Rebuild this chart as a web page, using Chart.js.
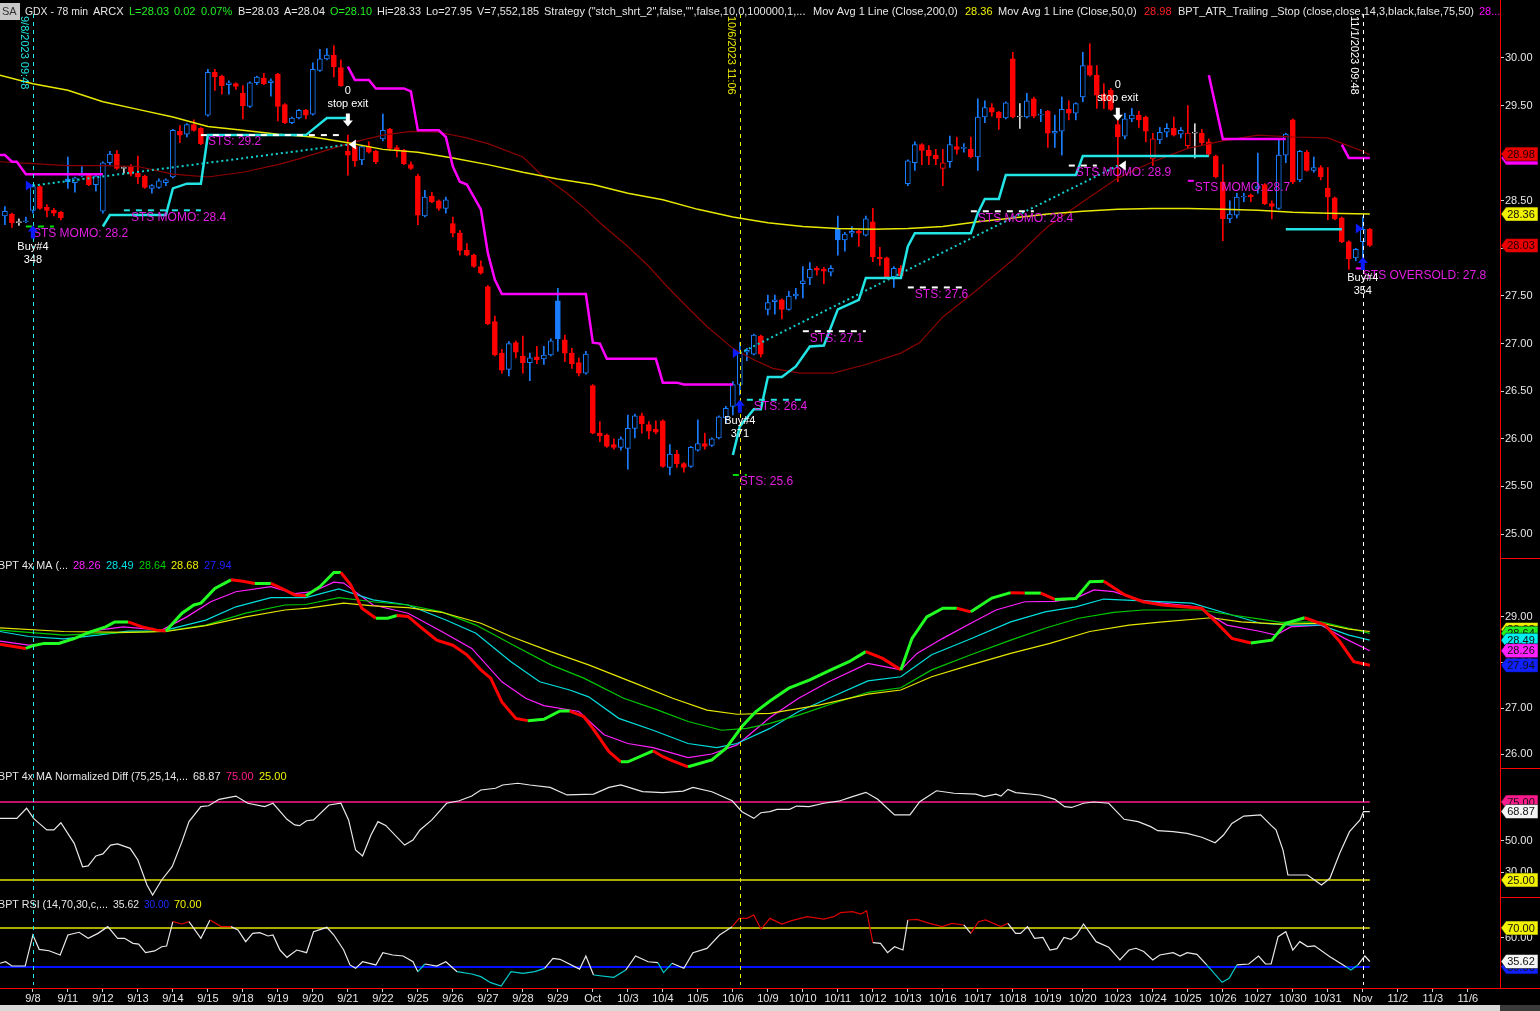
<!DOCTYPE html>
<html>
<head>
<meta charset="utf-8">
<title>GDX - 78 min</title>
<script src="https://cdn.jsdelivr.net/npm/chart.js@4.4.0/dist/chart.umd.min.js"></script>
<style>
  html, body { margin: 0; padding: 0; background: #000; overflow: hidden; }
</style>
</head>
<body>
<canvas id="chart" width="1540" height="1011"></canvas>
<script>
// 78 min bars, bar 0 = 9/8 09:48, five bars a session
const firstBar = -4;
const dayLabels = ['9/8','9/11','9/12','9/13','9/14','9/15','9/18','9/19','9/20','9/21','9/22','9/25','9/26','9/27','9/28','9/29',
  'Oct','10/3','10/4','10/5','10/6','10/9','10/10','10/11','10/12','10/13','10/16','10/17','10/18','10/19','10/20',
  '10/23','10/24','10/25','10/26','10/27','10/30','10/31','Nov','11/2','11/3','11/6'];

const opens = [
  28.34,28.36,28.27,28.28,28.40,28.65,28.43,28.40,28.38,28.73,
  28.69,28.76,28.77,28.67,28.39,28.90,28.99,28.84,28.86,28.79,
  28.76,28.63,28.64,28.69,28.75,29.23,29.20,29.30,29.26,29.40,
  29.85,29.81,29.72,29.73,29.63,29.49,29.74,29.79,29.74,29.83,
  29.51,29.32,29.37,29.45,29.41,29.87,29.99,30.03,29.90,29.02,
  29.07,28.93,29.07,29.02,29.15,29.25,29.06,29.03,28.88,28.76,
  28.34,28.55,28.50,28.42,28.26,28.16,27.98,27.93,27.81,27.60,
  27.23,26.90,26.73,27.01,26.87,26.80,26.86,26.84,26.88,27.45,
  27.04,26.90,26.80,26.69,26.56,26.06,26.04,25.94,25.91,25.90,
  26.11,26.24,26.15,26.10,26.19,25.70,25.84,25.74,25.71,25.88,
  25.95,25.93,26.01,26.22,26.34,26.57,26.91,26.89,27.08,27.36,
  27.44,27.46,27.36,27.50,27.63,27.69,27.79,27.78,27.75,28.20,
  28.09,28.16,28.18,28.14,28.28,27.91,27.90,27.70,27.79,28.68,
  28.90,29.09,29.03,28.98,28.84,28.91,29.07,29.05,29.04,28.96,
  29.38,29.48,29.43,29.37,29.99,29.38,29.38,29.57,29.40,29.44,
  29.21,29.23,29.46,29.42,29.59,29.92,29.82,29.62,29.66,29.30,
  29.18,29.36,29.40,29.38,28.94,29.14,29.22,29.26,29.20,29.08,
  29.21,29.21,29.12,28.97,28.70,28.31,28.35,28.54,28.56,28.63,
  28.67,28.47,28.42,28.98,29.35,28.72,29.01,28.82,28.85,28.63,
  28.53,28.32,28.07,27.90,28.07,28.20];
const highs = [
  28.44,28.37,28.31,28.33,28.67,28.66,28.46,28.42,28.39,28.96,
  28.75,28.86,28.78,28.77,28.91,29.02,29.03,28.86,28.88,28.97,
  28.77,28.67,28.73,28.73,29.25,29.29,29.31,29.35,29.27,29.88,
  29.88,29.82,29.76,29.74,29.71,29.75,29.81,29.84,29.78,29.84,
  29.52,29.38,29.46,29.46,29.95,30.09,30.10,30.13,29.98,29.19,
  29.08,29.08,29.12,29.03,29.41,29.26,29.08,29.04,28.91,28.78,
  28.61,28.59,28.51,28.54,28.33,28.19,28.05,27.94,27.87,27.61,
  27.29,26.94,27.02,27.03,27.08,26.90,26.97,26.97,27.05,27.58,
  27.09,26.95,26.85,26.92,26.57,26.18,26.05,26.00,26.02,26.25,
  26.26,26.27,26.18,26.19,26.20,25.94,25.88,25.75,25.92,26.20,
  26.06,26.01,26.24,26.34,26.60,27.01,26.95,27.10,27.09,27.51,
  27.51,27.47,27.55,27.58,27.81,27.85,27.81,27.80,27.82,28.34,
  28.17,28.23,28.20,28.34,28.42,28.01,27.91,27.81,27.82,28.93,
  29.12,29.10,29.08,29.04,29.04,29.18,29.17,29.10,29.17,29.57,
  29.55,29.52,29.44,29.54,30.06,29.52,29.63,29.59,29.46,29.45,
  29.40,29.59,29.55,29.53,30.06,30.15,29.92,29.73,29.68,29.35,
  29.42,29.47,29.44,29.39,29.21,29.27,29.31,29.38,29.27,29.50,
  29.31,29.25,29.15,28.98,28.88,28.50,28.58,28.58,28.57,29.00,
  28.68,28.50,29.14,29.21,29.36,29.03,29.03,28.96,28.87,28.85,
  28.54,28.33,28.08,28.00,28.33,28.21];
const lows = [
  28.25,28.22,28.24,28.27,28.37,28.41,28.33,28.34,28.30,28.63,
  28.59,28.75,28.66,28.60,28.37,28.88,28.83,28.79,28.76,28.68,
  28.63,28.58,28.63,28.66,28.74,29.11,29.17,29.23,29.09,29.39,
  29.66,29.62,29.62,29.67,29.36,29.48,29.72,29.72,29.60,29.34,
  29.31,29.31,29.36,29.36,29.40,29.86,29.98,29.80,29.70,28.77,
  28.86,28.88,29.00,28.89,29.13,29.03,28.96,28.88,28.83,28.25,
  28.33,28.48,28.40,28.37,28.12,27.93,27.92,27.80,27.73,27.20,
  26.87,26.69,26.66,26.85,26.69,26.61,26.79,26.78,26.87,26.92,
  26.81,26.74,26.66,26.68,26.05,25.97,25.91,25.89,25.88,25.68,
  26.01,26.06,26.00,26.05,25.70,25.62,25.70,25.65,25.70,25.87,
  25.89,25.92,26.00,26.17,26.25,26.46,26.82,26.88,26.86,27.30,
  27.31,27.26,27.35,27.47,27.48,27.62,27.72,27.63,27.71,27.93,
  27.97,28.12,28.02,28.13,27.86,27.82,27.69,27.59,27.70,28.66,
  28.82,28.88,28.88,28.88,28.66,28.85,28.99,29.01,28.95,28.82,
  29.32,29.39,29.25,29.36,29.37,29.26,29.37,29.37,29.33,29.06,
  29.06,28.98,29.35,29.35,29.54,29.81,29.47,29.47,29.45,28.70,
  29.15,29.33,29.27,29.12,28.87,29.10,29.17,29.18,29.16,29.05,
  28.95,29.08,28.97,28.74,28.08,28.27,28.32,28.49,28.49,28.58,
  28.46,28.31,28.41,28.90,28.68,28.70,28.81,28.80,28.72,28.30,
  28.30,28.06,27.78,27.87,27.88,28.02];
const closes = [
  28.39,28.27,28.27,28.29,28.65,28.42,28.40,28.37,28.32,28.70,
  28.74,28.78,28.67,28.76,28.90,28.99,28.84,28.84,28.78,28.75,
  28.64,28.66,28.71,28.72,29.24,29.19,29.30,29.24,29.10,29.85,
  29.80,29.71,29.74,29.70,29.50,29.74,29.80,29.73,29.76,29.49,
  29.32,29.37,29.45,29.40,29.88,29.99,30.03,29.91,29.71,28.98,
  28.92,29.07,29.01,28.91,29.24,29.05,29.03,28.89,28.84,28.35,
  28.54,28.49,28.42,28.51,28.16,27.98,27.93,27.81,27.74,27.21,
  26.88,26.72,27.00,26.91,26.80,26.85,26.83,26.88,27.03,27.05,
  26.90,26.79,26.69,26.89,26.06,26.03,25.92,25.91,26.00,26.11,
  26.24,26.16,26.08,26.07,25.71,25.84,25.74,25.70,25.91,25.95,
  25.92,26.00,26.23,26.32,26.57,26.90,26.93,27.09,26.89,27.43,
  27.46,27.36,27.50,27.52,27.66,27.78,27.77,27.76,27.79,28.09,
  28.15,28.18,28.16,28.31,27.91,27.89,27.70,27.79,27.71,28.92,
  29.09,29.03,28.97,28.94,28.90,29.09,29.04,29.06,28.96,29.38,
  29.48,29.43,29.37,29.53,29.38,29.38,29.55,29.39,29.41,29.21,
  29.23,29.46,29.42,29.52,29.92,29.82,29.61,29.55,29.46,29.17,
  29.36,29.40,29.35,29.23,29.15,29.22,29.26,29.19,29.24,29.21,
  29.21,29.11,28.99,28.75,28.31,28.36,28.54,28.55,28.54,28.65,
  28.47,28.44,28.98,29.20,28.70,29.02,28.82,28.85,28.75,28.54,
  28.31,28.07,27.89,27.99,28.20,28.03];

// price panel studies, [bar, value]
const ma200 = [[-4.7,29.82],[0,29.73],[5,29.66],[10,29.54],[15,29.46],[20,29.38],[25,29.28],[30,29.24],[35,29.20],[40,29.17],
  [45,29.11],[50,29.04],[55,29.01],[60,28.95],[65,28.88],[70,28.80],[75,28.73],[80,28.67],[85,28.58],[90,28.51],[95,28.41],
  [100,28.33],[105,28.27],[110,28.23],[115,28.21],[120,28.20],[125,28.21],[130,28.23],[135,28.28],[140,28.32],[145,28.36],
  [150,28.39],[155,28.41],[160,28.42],[165,28.42],[170,28.41],[175,28.40],[180,28.38],[185,28.37],[191,28.36]];
const ma50 = [[-4.7,28.91],[0,28.89],[5,28.87],[10,28.87],[15,28.86],[20,28.78],[25,28.75],[30,28.80],[35,28.88],[38,28.94],
  [45,29.10],[50,29.19],[54,29.23],[58,29.22],[62,29.16],[65,29.10],[70,28.96],[72.4,28.79],[76.3,28.58],[79,28.41],
  [81,28.27],[85,28.02],[88,27.81],[90.6,27.60],[93.4,27.39],[96.3,27.18],[100,26.95],[103,26.83],[105.7,26.74],
  [109.6,26.69],[114.3,26.69],[119,26.78],[124,26.90],[126.7,27.01],[130,27.28],[135,27.57],[140,27.88],[145,28.23],
  [150,28.49],[155,28.74],[160,28.91],[165,29.05],[170,29.13],[175,29.19],[180,29.17],[185,29.16],[187.5,29.09],
  [190,29.02],[191,28.98]];

// ATR trailing stop: short side (above price) and long side (below price)
const stopShort = [
  [[-4.7,28.98],[-4,28.98],[-3,28.91],[-2.3,28.91],[-1,28.78],[10,28.78]],
  [[45,29.91],[46,29.77],[48,29.77],[49,29.68],[53,29.68],[54,29.65],[55,29.24],[58,29.24],[59,29.17],[60,28.86],
   [61,28.70],[62,28.67],[64,28.41],[65,27.95],[66,27.67],[67,27.52],[79,27.52],[80,27.01],[81,27.00],[82,26.84],
   [89,26.84],[90,26.59],[92,26.59],[93,26.57],[100,26.57]],
  [[168,29.82],[170,29.15],[179,29.15]],
  [[187,29.09],[188,28.95],[191,28.95]]];
const stopLong = [
  [[10,28.23],[11,28.35],[19,28.35],[20,28.63],[22,28.68],[24,28.68],[25,29.19],[39,29.19],[42,29.37],[45,29.37]],
  [[100,25.83],[101,26.13],[103,26.31],[104,26.31],[105,26.65],[107,26.65],[109,26.76],[111,26.97],[113,26.98],
   [115,27.36],[118,27.46],[119,27.69],[124,27.69],[125,28.02],[126,28.16],[134,28.16],[135,28.37],[136,28.52],
   [138,28.52],[139,28.77],[149,28.77],[150,28.97],[168,28.97]],
  [[179,28.20],[187,28.20]]];

// trade trend lines (entry -> exit)
const trendLines = [[[0,28.66],[45,29.09]], [[101,26.90],[155,28.87]]];

// STS levels
const stsFrom  = [-1, 13, 24, 102, 100, 110, 125, 134, 148, 165, 189];
const stsTo    = [3, 24, 44, 110, 102, 119, 133, 143, 152, 166, 190];
const stsPrice = [28.23, 28.40, 29.19, 26.41, 25.62, 27.13, 27.59, 28.39, 28.87, 28.71, 27.79];
const stsKind  = ['g', 'c', 'w', 'c', 'g', 'w', 'w', 'w', 'w', 'm', 'm'];
const stsText  = ['STS MOMO: 28.2', 'STS MOMO: 28.4', 'STS: 29.2', 'STS: 26.4', 'STS: 25.6', 'STS: 27.1',
  'STS: 27.6', 'STS MOMO: 28.4', 'STS MOMO: 28.9', 'STS MOMO: 28.7', 'STS OVERSOLD: 27.8'];

// trades
const buyBars = [0, 101, 190];
const buyEntry = [28.66, 26.90, 28.21];
const buyArrow = [28.24, 26.41, 27.91];
const buyIds = ['348', '371', '354'];
const exitBars = [45, 155];
const exitArrow = [29.28, 29.34];
const exitPrice = [29.09, 28.87];

// marked bars
const eventBars = [0, 101, 190];
const eventText = ['9/8/2023 09:48', '10/6/2023 11:06', '11/1/2023 09:48'];

// BPT 4x MA
const maFast = [[-4.7,28.40],[-1,28.31],[0,28.37],[1.6,28.42],[3.7,28.42],[6,28.53],[8,28.66],[10.4,28.78],[11.7,28.89],
  [13.6,28.89],[15.6,28.78],[17.7,28.71],[19,28.69],[21.3,29.08],[23,29.26],[24,29.30],[26,29.62],[28.3,29.81],[30,29.78],
  [31.7,29.73],[34,29.73],[35.6,29.62],[37.4,29.48],[39,29.46],[41,29.66],[43,29.97],[44,29.97],[45.4,29.70],[47,29.19],
  [49,28.97],[50.7,28.97],[52,29.03],[53.6,29.01],[55.6,28.75],[57.7,28.49],[60,28.38],[62,28.17],[64,27.84],[65.4,27.66],
  [67,27.14],[69,26.78],[70.7,26.73],[73,26.76],[75.3,26.94],[76.7,26.94],[78.7,26.82],[80,26.56],[82.3,26.05],[84,25.83],
  [85,25.83],[88.6,26.07],[90,25.94],[91.4,25.85],[93.6,25.72],[97,25.87],[99,26.12],[101.3,26.60],[103.3,26.93],
  [105.3,27.16],[108,27.44],[111,27.62],[113.7,27.82],[116.6,28.02],[119,28.24],[121.4,28.09],[124,27.84],[125.6,28.53],
  [127.7,29.00],[130,29.19],[132,29.19],[134,29.11],[137,29.41],[139.7,29.53],[141.7,29.52],[144,29.52],[146,29.38],
  [149,29.40],[151,29.77],[153,29.78],[156,29.48],[158.6,29.33],[161.4,29.26],[164.3,29.22],[167,29.19],[169,28.89],
  [171.3,28.53],[174,28.43],[177,28.49],[179,28.86],[181.7,28.98],[184.6,28.82],[186.7,28.46],[188.7,28.02],[191,27.94]];
const maMagenta = [[-4.7,28.47],[-0.6,28.38],[3.7,28.43],[9.3,28.71],[12.9,28.78],[18.4,28.71],[22,29.00],[25.4,29.33],
  [29,29.55],[34,29.66],[37.4,29.51],[40,29.55],[43,29.76],[44.4,29.74],[48.6,29.26],[53.6,29.08],[58.4,28.68],[62.7,28.31],
  [67,27.58],[70.4,27.22],[73,27.06],[78,26.93],[81.6,26.42],[85,26.23],[88.6,26.14],[93.6,25.92],[97,26.00],[100.6,26.20],
  [105.3,26.80],[109.4,27.22],[113.7,27.58],[119.3,27.98],[124,27.84],[126.3,28.20],[130,28.53],[134,28.86],[137.6,29.15],
  [141.7,29.33],[146,29.34],[149,29.41],[151.6,29.59],[154.4,29.55],[158,29.37],[161.4,29.30],[166.3,29.22],[170.6,28.82],
  [175.4,28.68],[177.6,28.60],[179.7,28.78],[184,28.82],[187.4,28.53],[191,28.26]];
const maCyan = [[-4.7,28.68],[-0.6,28.57],[4.4,28.52],[9.3,28.60],[13.6,28.69],[18.4,28.69],[24.7,28.93],[29,29.22],
  [34,29.42],[39,29.42],[43.7,29.61],[48.6,29.37],[53.6,29.26],[59,28.93],[63.3,28.64],[68.3,28.02],[72.4,27.58],
  [76.7,27.40],[79.4,27.25],[83.7,26.78],[88.6,26.52],[93.6,26.23],[97.7,26.14],[100.6,26.23],[105.3,26.56],[109.4,26.93],
  [113.7,27.22],[119.3,27.60],[124,27.69],[128.4,28.17],[134,28.52],[139.7,28.89],[144.6,29.11],[149,29.22],[153,29.39],
  [158.6,29.35],[165.6,29.30],[171.3,29.04],[175.4,28.86],[179.7,28.82],[184,28.82],[188,28.60],[191,28.49]];
const maGreen = [[-4.7,28.71],[4.4,28.60],[13.6,28.66],[19,28.69],[24.7,28.82],[30.4,29.08],[36,29.26],[39,29.27],
  [43.7,29.42],[48.6,29.33],[53.6,29.26],[58.4,29.11],[63.3,28.82],[69,28.35],[74,27.95],[78.7,27.66],[84.4,27.22],
  [89.3,26.96],[93.6,26.71],[98.4,26.52],[102,26.56],[105.3,26.67],[109.4,26.85],[114.4,27.11],[119.3,27.35],[124,27.45],
  [128.4,27.84],[134,28.17],[139.7,28.49],[144.6,28.75],[149.4,28.97],[154.4,29.10],[158.6,29.15],[167,29.15],
  [171.3,29.04],[175.4,28.95],[178.3,28.88],[184,28.89],[188,28.75],[191,28.64]];
const maYellow = [[-4.7,28.76],[4.4,28.68],[13.6,28.66],[19,28.68],[24.7,28.81],[30.4,29.00],[36,29.15],[39.4,29.19],
  [44.4,29.30],[48.6,29.24],[53.6,29.20],[58.4,29.10],[64,28.86],[68.3,28.57],[74,28.24],[79.4,27.95],[86,27.55],
  [91.4,27.22],[96.3,26.96],[100.6,26.87],[105.3,26.89],[112.3,27.07],[119.3,27.31],[124,27.40],[128.4,27.69],[134,27.95],
  [139.7,28.20],[145.3,28.42],[151,28.68],[156.6,28.82],[161.4,28.89],[168.4,28.98],[172.6,28.89],[178.3,28.84],
  [184,28.86],[188,28.73],[191,28.68]];

// BPT 4x MA Normalized Diff
const normDiff = [[-4.7,64.5],[-2.3,64.5],[-0.9,71.0],[0.1,64.5],[0.9,61.3],[2,57.1],[3,57.1],[4,61.7],[5.9,48.5],
  [7.1,33.5],[7.9,34.0],[9,40.4],[10,41.7],[11.1,47.4],[12.1,48.1],[13.9,45.3],[15,37.8],[16.3,21.8],[17.1,15.4],
  [18.4,25.0],[19.9,33.5],[21.3,49.6],[22.3,62.4],[24,72.0],[25.1,72.6],[26.6,76.7],[29,78.8],[30.7,74.2],[33.1,72.0],
  [34.3,74.2],[36.3,63.9],[37.4,60.3],[38.1,59.8],[39.1,63.0],[40.1,63.5],[42.3,73.1],[44,74.2],[45.1,63.5],[46.1,44.2],
  [47.1,40.4],[48.3,53.8],[49.3,62.4],[50.4,60.0],[53.1,47.4],[54.3,50.6],[55.3,57.1],[57,63.5],[59.1,74.2],[60.9,75.8],
  [62.7,78.8],[64,82.7],[66.1,83.8],[67.1,85.9],[69.3,87.0],[71,85.9],[73.9,84.4],[76.3,79.5],[80.1,80.1],[82.3,84.4],
  [84,85.9],[87.1,81.6],[90,81.0],[92.9,82.0],[94.3,84.4],[97,81.6],[99.9,75.8],[101.3,68.8],[103,64.5],[104,68.1],
  [105.3,68.8],[106.3,70.3],[108.1,70.3],[109.1,72.4],[110.9,72.0],[113,74.2],[115.1,75.5],[117.1,78.4],[119,81.2],
  [120.7,76.7],[123.1,66.7],[125.3,66.7],[126.7,75.2],[129.1,82.2],[131.6,80.6],[134.7,80.0],[135.9,78.4],[137.6,80.0],
  [138.3,78.8],[139.3,83.1],[140.4,81.0],[143.9,79.5],[146,76.7],[147.4,72.0],[148.4,71.5],[150.1,74.2],[151.6,75.0],
  [153.7,74.2],[155.9,63.9],[157.9,62.4],[159.7,59.2],[160.7,56.6],[162.9,56.0],[164.9,54.9],[167,52.4],[168.9,48.9],
  [170.1,53.8],[171.3,61.3],[173,66.0],[175.4,66.7],[176.9,60.0],[177.6,57.1],[178.6,44.2],[179.3,28.2],[182.1,28.2],
  [184.1,21.8],[185.3,26.1],[186.7,42.1],[188.1,56.0],[189.6,63.5],[190.1,68.9],[191,68.87]];

// BPT RSI
const rsi = [[-4.7,33.8],[-3.9,35.4],[-3,31.0],[-1.1,31.0],[0,62.8],[0.9,48.1],[2.3,46.7],[3.9,42.3],[5,62.8],[6.6,65.6],
  [7.9,59.4],[9.3,64.5],[10.7,71.4],[12.1,59.4],[13.1,59.4],[14.3,54.3],[15.1,53.5],[16.1,44.7],[17.4,46.5],[18.4,50.8],
  [19.1,51.5],[20,76.5],[21.3,74.1],[22.3,76.5],[24,59.4],[25.3,78.2],[26.9,71.4],[28.3,71.4],[29.3,68.0],[30.4,56.0],
  [31.4,64.5],[32.4,65.2],[33.6,61.8],[34.3,62.8],[35.3,47.4],[36.3,39.9],[37.7,47.4],[39.1,44.7],[40.1,66.2],[42,70.7],
  [43,62.8],[44.4,47.4],[45.3,32.1],[46.1,28.6],[47.1,35.4],[49,32.1],[50,44.7],[51.4,42.3],[52.9,41.3],[54.3,35.4],
  [55,25.2],[56,33.1],[57.7,31.0],[59,35.4],[60.6,25.2],[62.7,22.8],[64,20.1],[65.4,13.9],[66.9,10.5],[68.3,25.2],
  [70,23.5],[71.7,25.2],[73.1,28.6],[74.3,38.9],[75.3,37.9],[78.1,27.8],[79,41.3],[80.1,21.8],[83,19.4],[84.7,26.9],
  [86.1,41.3],[87.9,35.4],[89.3,34.4],[90.1,24.3],[91.3,33.8],[93,28.6],[94.3,44.7],[96.3,49.1],[98.1,62.8],[99.9,71.4],
  [100.9,79.9],[102,79.9],[103,83.3],[104,68.7],[105.3,79.9],[107,74.1],[108.4,77.5],[110.6,81.6],[113,79.2],[114.4,81.6],
  [115.4,85.7],[117.1,86.7],[118.3,84.3],[119.1,87.7],[120,54.9],[121.1,54.2],[122.1,44.7],[123.1,50.8],[124.3,47.4],
  [125,78.2],[126.3,78.9],[128.1,74.8],[129.9,71.4],[131.3,74.8],[133,73.1],[134,64.5],[135.1,76.5],[136.1,78.2],
  [138.3,71.4],[139.3,74.8],[140.4,64.5],[141.1,64.5],[142.1,71.4],[143.1,59.4],[144.3,60.4],[145.3,47.4],[146.3,48.8],
  [147.3,60.4],[148.3,58.3],[149.1,62.8],[150.1,74.1],[151.9,56.0],[153.7,50.2],[155.3,37.2],[156.6,47.4],[157.6,49.2],
  [158.7,45.9],[160,37.2],[161,42.3],[162.9,44.7],[163.9,41.3],[164.9,44.7],[166.3,43.0],[167.7,32.1],[169.9,14.3],
  [170.9,18.4],[172,32.1],[173.7,33.1],[175.1,41.3],[176.1,33.1],[176.9,33.1],[177.9,61.1],[179,66.2],[180,47.4],
  [181,56.0],[182.1,51.0],[183.1,51.7],[185.3,40.6],[187.6,30.3],[188.3,26.9],[189.3,32.1],[190.3,41.3],[191,35.62]];

const ndBands = [75, 25];
const rsiBands = [70, 30];

// ---------------------------------------------------------------
const UP = '#1a7dff', DOWN = '#ff0000', FLAT = '#d8d8d8';
const RED = '#ff0000', MAG = '#ff00ff', AQUA = '#22e4e4', YEL = '#e8e800', TXT = '#e6e6e6';
const STS_COL = {g: '#00dd00', c: '#22e4e4', w: '#ffffff', m: '#ff00ff'};
const STS_TXT = '#e21ee2';
const FONT = '11px "Liberation Sans", Arial, sans-serif';
const STS_FONT = '12px "Liberation Sans", Arial, sans-serif';
const lastBar = firstBar + closes.length - 1;

Chart.defaults.font.family = '"Liberation Sans", Arial, sans-serif';
Chart.defaults.font.size = 11;

const bars = closes.map((c, k) => firstBar + k);
const candleCol = closes.map((c, k) => {
  const prev = k ? closes[k - 1] : opens[k];
  return c > prev ? UP : (c < prev ? DOWN : FLAT);
});
const candleFill = closes.map((c, k) => c < opens[k] ? candleCol[k] : '#000');

const pts = arr => arr.map(p => ({x: p[0], y: p[1]}));
const last = arr => arr[arr.length - 1][1];
function line(data, axis, color, width, order, extra) {
  return Object.assign({type: 'line', data: pts(data), yAxisID: axis, borderColor: color, borderWidth: width,
    pointRadius: 0, fill: false, tension: 0, order: order}, extra || {});
}
const span = v => [[-4.7, v], [lastBar, v]];

const datasets = [
  {type: 'bar', data: bars.map((i, k) => ({x: i, y: [lows[k], highs[k]]})), yAxisID: 'yP', grouped: false,
    barThickness: 1, backgroundColor: candleCol, borderWidth: 0, order: 20},
  {type: 'bar', data: bars.map((i, k) => ({x: i, y: [opens[k], closes[k]]})), yAxisID: 'yP', grouped: false,
    barThickness: 5, minBarLength: 1, backgroundColor: candleFill, borderColor: candleCol, borderWidth: 1,
    borderSkipped: false, order: 19},
  line(ma200, 'yP', YEL, 1.5, 6),
  line(ma50, 'yP', '#8b0000', 1.2, 6),
];
stopShort.forEach(s => datasets.push(line(s, 'yP', MAG, 2.5, 5)));
stopLong.forEach(s => datasets.push(line(s, 'yP', AQUA, 2.5, 5)));
trendLines.forEach(s => datasets.push(line(s, 'yP', '#10d0d0', 2, 4, {borderDash: [2, 3]})));
stsFrom.forEach((f, k) => datasets.push(line([[f, stsPrice[k]], [stsTo[k], stsPrice[k]]], 'yP',
  STS_COL[stsKind[k]], 2, 3, {borderDash: [6, 6]})));

datasets.push(line(maYellow, 'yM', '#e6e600', 1.2, 5));
datasets.push(line(maGreen, 'yM', '#00c800', 1.2, 5));
datasets.push(line(maCyan, 'yM', '#00dede', 1.2, 5));
datasets.push(line(maMagenta, 'yM', '#ff20ff', 1.2, 5));
datasets.push(line(maFast, 'yM', '#00ff00', 3, 4,
  {segment: {borderColor: s => s.p1.parsed.y < s.p0.parsed.y ? '#ff0000' : '#22ff22'}}));

datasets.push(line(span(ndBands[0]), 'yN', '#ff1a8c', 1.5, 6));
datasets.push(line(span(ndBands[1]), 'yN', '#e6e600', 1.5, 6));
datasets.push(line(normDiff, 'yN', '#e8e8e8', 1.2, 5));

datasets.push(line(span(rsiBands[0]), 'yR', '#e6e600', 1.5, 6));
datasets.push(line(span(rsiBands[1]), 'yR', '#0010ff', 2, 6));
datasets.push(line(rsi, 'yR', '#e8e8e8', 1.2, 5, {segment: {borderColor: s => {
  const m = (s.p0.parsed.y + s.p1.parsed.y) / 2;
  return m > rsiBands[0] ? '#dd0000' : (m < rsiBands[1] ? '#00cccc' : '#e8e8e8');
}}}));

function paneAxis(weight, min, max, ticks) {
  return {
    type: 'linear', position: 'right', stack: 'panes', stackWeight: weight, min: min, max: max, offset: false,
    border: {display: true, color: RED, width: 1},
    grid: {display: true, drawOnChartArea: false, drawTicks: true, tickLength: 4, color: '#d0d0d0'},
    ticks: {color: TXT, padding: 1, font: {size: 11}, callback: v => Number(v).toFixed(2)},
    afterBuildTicks: s => { s.ticks = ticks.map(v => ({value: v})); },
    afterFit: s => { s.width = 40; s.paddingTop = 0; s.paddingBottom = 0; }
  };
}

function tag(c, y, text, fill, textCol) {
  const x0 = 1500, w = 38, h = 14;
  c.beginPath();
  c.moveTo(x0 + 1, y); c.lineTo(x0 + 6, y - h / 2); c.lineTo(x0 + w, y - h / 2);
  c.lineTo(x0 + w, y + h / 2); c.lineTo(x0 + 6, y + h / 2); c.closePath();
  c.fillStyle = fill; c.fill();
  c.strokeStyle = 'rgba(0,0,0,0.5)'; c.lineWidth = 1; c.stroke();
  c.fillStyle = textCol || '#111'; c.textAlign = 'center'; c.textBaseline = 'middle';
  c.font = FONT;
  c.fillText(text, x0 + 21, y + 0.5);
}
// text runs: [text, colour, left]; each run is fitted before the next one starts
function runs(c, list, y) {
  c.textAlign = 'left'; c.textBaseline = 'middle'; c.font = FONT;
  list.forEach((r, k) => {
    c.fillStyle = r[1];
    if (k + 1 < list.length) c.fillText(r[0], r[2], y, list[k + 1][2] - r[2] - 5);
    else c.fillText(r[0], r[2], y);
  });
}

const overlay = {
  id: 'overlay',
  beforeDraw(chart) {
    const c = chart.ctx;
    c.save(); c.fillStyle = '#000'; c.fillRect(0, 0, chart.width, chart.height); c.restore();
  },
  afterDraw(chart) {
    const c = chart.ctx, X = chart.scales.x, P = chart.scales.yP, M = chart.scales.yM,
      N = chart.scales.yN, R = chart.scales.yR, area = chart.chartArea;
    const px = i => X.getPixelForValue(i);
    c.save();

    // marked bars
    const evCol = [AQUA, '#e8e800', '#ffffff'];
    eventBars.forEach((b, k) => {
      const x = Math.round(px(b)) + 0.5;
      c.strokeStyle = evCol[k]; c.lineWidth = 1; c.setLineDash([4, 4]);
      c.beginPath(); c.moveTo(x, 14); c.lineTo(x, area.bottom - 3); c.stroke();
      c.setLineDash([]);
      c.save(); c.translate(x - 9, 16); c.rotate(Math.PI / 2);
      c.fillStyle = evCol[k]; c.font = FONT; c.textAlign = 'left'; c.textBaseline = 'middle';
      c.fillText(eventText[k], 0, 0); c.restore();
    });

    // STS labels
    c.font = STS_FONT; c.textAlign = 'left'; c.textBaseline = 'middle'; c.fillStyle = STS_TXT;
    stsFrom.forEach((f, k) => c.fillText(stsText[k], px(f + 1), P.getPixelForValue(stsPrice[k]) + 7));

    // buys
    buyBars.forEach((b, k) => {
      const x = px(b), y = P.getPixelForValue(buyArrow[k]);
      c.fillStyle = '#0a1cff';
      c.beginPath(); c.moveTo(x, y); c.lineTo(x + 5, y + 6); c.lineTo(x + 2, y + 6); c.lineTo(x + 2, y + 13);
      c.lineTo(x - 2, y + 13); c.lineTo(x - 2, y + 6); c.lineTo(x - 5, y + 6); c.closePath(); c.fill();
      const ye = P.getPixelForValue(buyEntry[k]);
      c.beginPath(); c.moveTo(x - 7, ye - 5); c.lineTo(x, ye); c.lineTo(x - 7, ye + 5); c.closePath(); c.fill();
      c.fillStyle = '#ffffff'; c.font = FONT; c.textAlign = 'center';
      c.fillText('Buy#4', x, y + 21); c.fillText(buyIds[k], x, y + 34);
    });
    // exits
    exitBars.forEach((b, k) => {
      const x = px(b), y = P.getPixelForValue(exitArrow[k]);
      c.fillStyle = '#ffffff';
      c.beginPath(); c.moveTo(x, y); c.lineTo(x + 5, y - 6); c.lineTo(x + 2, y - 6); c.lineTo(x + 2, y - 13);
      c.lineTo(x - 2, y - 13); c.lineTo(x - 2, y - 6); c.lineTo(x - 5, y - 6); c.closePath(); c.fill();
      const ye = P.getPixelForValue(exitPrice[k]);
      c.beginPath(); c.moveTo(x + 1, ye); c.lineTo(x + 8, ye - 5); c.lineTo(x + 8, ye + 5); c.closePath(); c.fill();
      c.font = FONT; c.textAlign = 'center';
      c.fillText('0', x, y - 36); c.fillText('stop exit', x, y - 23);
    });

    // header
    c.fillStyle = '#c8c8c8'; c.fillRect(0, 3, 20, 17);
    runs(c, [['SA', '#303030', 2]], 11.5);
    runs(c, [['GDX - 78 min', TXT, 25], ['ARCX', TXT, 93], ['L=28.03', '#22ee22', 129], ['0.02', '#22ee22', 174],
      ['0.07%', '#22ee22', 201], ['B=28.03', TXT, 238], ['A=28.04', TXT, 284], ['O=28.10', '#22ee22', 330],
      ['Hi=28.33', TXT, 377], ['Lo=27.95', TXT, 426], ['V=7,552,185', TXT, 477],
      ['Strategy ("stch_shrt_2",false,"",false,10,0,100000,1,...', TXT, 544],
      ['Mov Avg 1 Line (Close,200,0)', TXT, 813], ['28.36', '#f0f000', 965],
      ['Mov Avg 1 Line (Close,50,0)', TXT, 998], ['28.98', '#ff2020', 1144],
      ['BPT_ATR_Trailing _Stop (close,close,14,3,black,false,75,50)', TXT, 1178], ['28...', MAG, 1479]], 11.5);

    // pane titles
    runs(c, [['BPT 4x MA (...', TXT, -2], [last(maMagenta).toFixed(2), '#ff20ff', 73], [last(maCyan).toFixed(2), '#00e0e0', 106],
      [last(maGreen).toFixed(2), '#00d000', 139], [last(maYellow).toFixed(2), '#f0f000', 171],
      [last(maFast).toFixed(2), '#2020ff', 204]], M.top + 8);
    runs(c, [['BPT 4x MA Normalized Diff (75,25,14,...', TXT, -2], [last(normDiff).toFixed(2), TXT, 193],
      [ndBands[0].toFixed(2), '#ff1a8c', 226], [ndBands[1].toFixed(2), '#f0f000', 259]], N.top + 9);
    runs(c, [['BPT RSI (14,70,30,c,...', TXT, -2], [last(rsi).toFixed(2), TXT, 113],
      [rsiBands[1].toFixed(2), '#1a2cff', 144], [rsiBands[0].toFixed(2), '#f0f000', 174]], R.top + 8);

    // value tags on the right axis
    tag(c, P.getPixelForValue(stopShort[stopShort.length - 1].slice(-1)[0][1]), '', MAG);
    tag(c, P.getPixelForValue(last(ma50)) - 1, last(ma50).toFixed(2), '#e80000', '#200');
    tag(c, P.getPixelForValue(last(ma200)), last(ma200).toFixed(2), '#f0f000');
    tag(c, P.getPixelForValue(closes[closes.length - 1]), closes[closes.length - 1].toFixed(2), '#e80000', '#200');
    tag(c, M.getPixelForValue(last(maYellow)) - 2, last(maYellow).toFixed(2), '#f0f000');
    tag(c, M.getPixelForValue(last(maGreen)), last(maGreen).toFixed(2), '#22ee22');
    tag(c, M.getPixelForValue(last(maCyan)), last(maCyan).toFixed(2), '#00f0f0');
    tag(c, M.getPixelForValue(last(maMagenta)), last(maMagenta).toFixed(2), '#ff20ff');
    tag(c, M.getPixelForValue(last(maFast)), last(maFast).toFixed(2), '#1020ff', '#101010');
    tag(c, N.getPixelForValue(ndBands[0]), ndBands[0].toFixed(2), '#ff1a8c');
    tag(c, N.getPixelForValue(last(normDiff)), last(normDiff).toFixed(2), '#f4f4f4');
    tag(c, N.getPixelForValue(ndBands[1]), ndBands[1].toFixed(2), '#f0f000');
    tag(c, R.getPixelForValue(rsiBands[0]), rsiBands[0].toFixed(2), '#f0f000');
    tag(c, R.getPixelForValue(rsiBands[1]), rsiBands[1].toFixed(2), '#1020ff');
    tag(c, R.getPixelForValue(last(rsi)), last(rsi).toFixed(2), '#f4f4f4');

    // pane separators, bottom rule, status strip
    c.strokeStyle = RED; c.lineWidth = 1;
    [M.top, N.top, R.top].forEach(y => {
      c.beginPath(); c.moveTo(area.right, Math.round(y) + 0.5); c.lineTo(chart.width, Math.round(y) + 0.5); c.stroke();
    });
    c.beginPath(); c.moveTo(0, area.bottom + 0.5); c.lineTo(chart.width, area.bottom + 0.5); c.stroke();
    c.fillStyle = '#d8d8d8'; c.fillRect(0, 1005, area.right, 6);
    c.fillStyle = '#3a3a3a'; c.fillRect(area.right, 1005, chart.width - area.right, 6);
    c.restore();
  }
};

new Chart(document.getElementById('chart'), {
  type: 'bar',
  data: {datasets: datasets},
  options: {
    responsive: false, animation: false, devicePixelRatio: 1, events: [],
    layout: {padding: 0, autoPadding: false},
    plugins: {legend: {display: false}, tooltip: {enabled: false}},
    scales: {
      x: {
        type: 'linear', position: 'bottom', min: -4.7, max: 209.6, offset: false,
        border: {display: true, color: RED},
        grid: {display: true, drawOnChartArea: false, drawTicks: true, tickLength: 4, color: '#d0d0d0', offset: false},
        ticks: {color: TXT, padding: 0, autoSkip: false, maxRotation: 0, font: {size: 11},
          callback: (v, i) => dayLabels[i]},
        afterBuildTicks: s => { s.ticks = dayLabels.map((l, d) => ({value: d * 5})); },
        afterFit: s => { s.height = 23; s.paddingLeft = 0; s.paddingRight = 0; }
      },
      yP: paneAxis(558, 24.748, 30.609, [25, 25.5, 26, 26.5, 27, 27.5, 28, 28.5, 29, 29.5, 30]),
      yM: paneAxis(210, 25.694, 30.2875, [26, 26.5, 27, 27.5, 28, 28.5, 29, 29.5]),
      yN: paneAxis(129, 14.10, 96.79, [30, 50, 75]),
      yR: paneAxis(91, 8.46, 101.79, [30, 60, 70])
    }
  },
  plugins: [overlay]
});
</script>
</body>
</html>
